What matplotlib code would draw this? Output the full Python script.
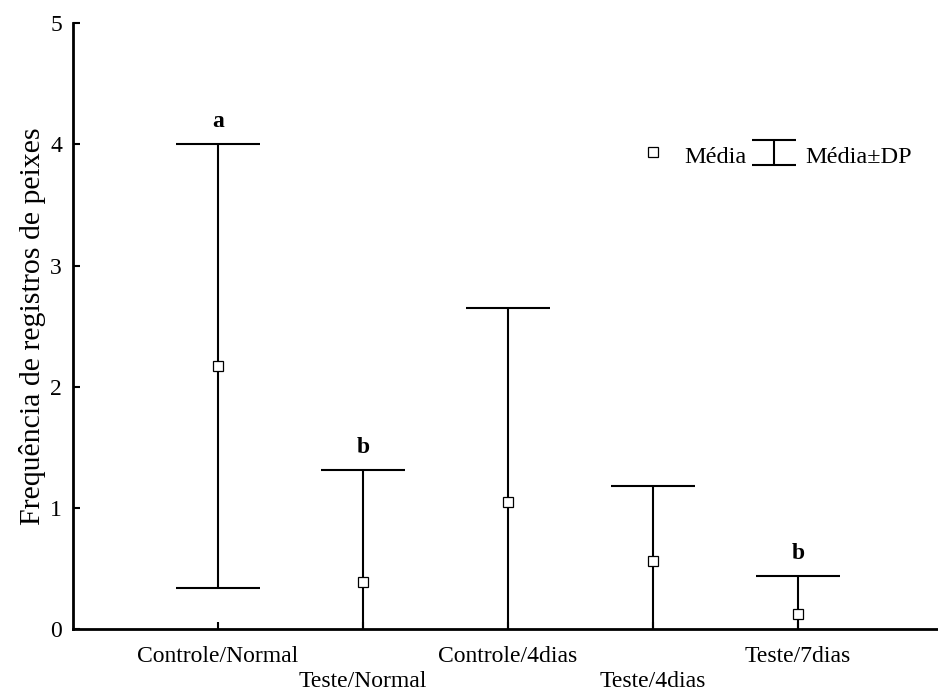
import numpy as np
import matplotlib.pyplot as plt

categories = ['Controle/Normal', 'Teste/Normal', 'Controle/4dias', 'Teste/4dias', 'Teste/7dias']
media = [2.17, 0.39, 1.05, 0.56, 0.12]
dp = [1.83, 0.92, 1.60, 0.62, 0.32]
letras = ['a', 'b', '', '', 'b']

plt.rcParams['font.family'] = ['Liberation Serif', 'DejaVu Serif']
plt.rcParams['font.size'] = 17

fig = plt.figure(figsize=(9.38, 6.93), dpi=100)
ax = fig.add_axes([73 / 938, 1 - 629 / 693, 1 - 73 / 938, (629 - 23.3) / 693])

x = np.arange(len(categories))
media = np.array(media)
dp = np.array(dp)

ax.errorbar(x, media, yerr=dp, fmt='none', ecolor='black', elinewidth=1.5,
            capsize=30, capthick=1.5, zorder=2)
pts, = ax.plot(x, media, linestyle='none', marker='s', markersize=6.5,
               markerfacecolor='white', markeredgecolor='black', markeredgewidth=0.9,
               label='Média', zorder=3)
# proxy so the legend gets a narrower cap than the plotted bars
proxy = ax.errorbar([np.nan], [np.nan], yerr=[np.nan], fmt='none', ecolor='black',
                    elinewidth=1.5, capsize=16, capthick=1.5, label='Média±DP')

for xi, top, txt in zip(x, media + dp, letras):
    if txt:
        ax.text(xi, top + 0.1, txt, ha='center', va='bottom', fontweight='bold', fontsize=17)

ax.set_xlim(-1.0, 4.966)
ax.set_ylim(0, 5)
ax.set_yticks([0, 1, 2, 3, 4, 5])
ax.set_xticks(x)
ax.set_xticklabels([c if i % 2 == 0 else '\n' + c for i, c in enumerate(categories)])
for lbl in ax.get_xticklabels():
    lbl.set_linespacing(1.3)
ax.tick_params(direction='in', length=5, width=1.5, pad=8)
ax.tick_params(axis='x', pad=12)
ax.set_ylabel('Frequência de registros de peixes', fontsize=21.5, labelpad=3)

for s in ['top', 'right']:
    ax.spines[s].set_visible(False)
for s in ['left', 'bottom']:
    ax.spines[s].set_linewidth(2)

ax.legend(handles=[pts, proxy], ncol=2, frameon=False, loc='upper right',
          bbox_to_anchor=(0.995, 0.84), handletextpad=0.5, columnspacing=0.3,
          handlelength=1.6, handleheight=1.2, fontsize=17.5)

fig.savefig('out.png', dpi=100)
